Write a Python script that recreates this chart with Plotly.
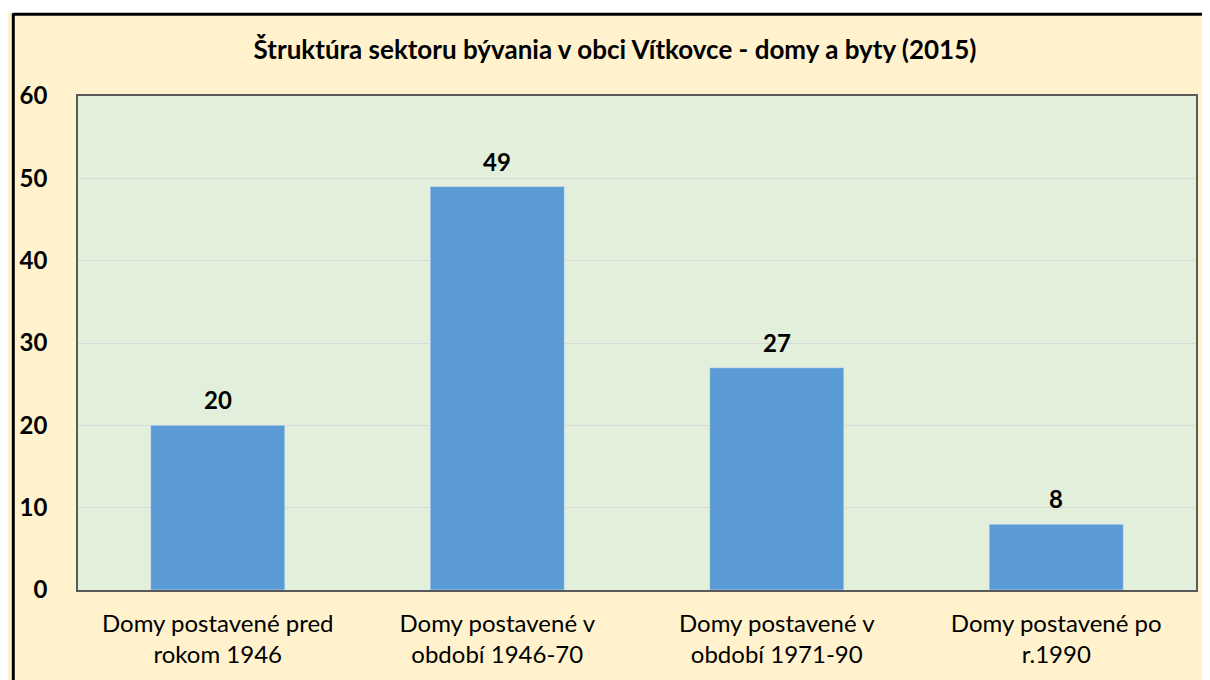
import plotly.graph_objects as go

categories = ["Domy postavené pred<br>rokom 1946", "Domy postavené v<br>období 1946-70",
              "Domy postavené v<br>období 1971-90", "Domy postavené po<br>r.1990"]
values = [20, 49, 27, 8]
y_ticks = [0, 10, 20, 30, 40, 50, 60]

W, H = 1202, 672
L, R, T, B = 66, 13, 88, 88
pw, ph = W - L - R, H - T - B
FONT = "Lato"

def px_x(p):
    return (p - L) / pw

def px_y(p):
    return 1 - (p - T) / ph

fig = go.Figure(go.Bar(
    x=categories, y=values, marker_color="#5B9BD5", width=0.48,
))

annotations = [
    dict(x=c, y=v, xref="x", yref="y", text=f"<b>{v}</b>", showarrow=False,
         yanchor="bottom", yshift=9, font=dict(family=FONT, size=24, color="#000000"))
    for c, v in zip(categories, values)
]

shapes = [
    dict(type="rect", xref="paper", yref="paper", x0=px_x(-20), x1=px_x(W + 20),
         y0=px_y(5), y1=px_y(-20), fillcolor="#FFFFFF", line_width=0),
    dict(type="line", xref="paper", yref="paper", x0=px_x(1), x1=px_x(W + 20),
         y0=px_y(6), y1=px_y(6), line=dict(color="#000000", width=3)),
    dict(type="line", xref="paper", yref="paper", x0=px_x(1), x1=px_x(1),
         y0=px_y(5), y1=px_y(H + 20), line=dict(color="#000000", width=3)),
]

fig.update_layout(
    width=W, height=H, margin=dict(l=L, r=R, t=T, b=B),
    paper_bgcolor="#FFF2CC", plot_bgcolor="#E2EFDA",
    title=dict(text="<b>Štruktúra sektoru bývania v obci Vítkovce - domy a byty (2015)</b>",
               x=607 / W, xref="container", xanchor="center", y=1 - 42 / H, yanchor="middle",
               font=dict(family=FONT, size=26, color="#000000")),
    font=dict(family=FONT, color="#000000"),
    showlegend=False, shapes=shapes, annotations=annotations,
)
fig.update_xaxes(showline=True, linecolor="#595959", linewidth=1.5, mirror=True,
                 tickfont=dict(family=FONT, size=24, color="#000000"),
                 ticklabelstandoff=11, showgrid=False)
fig.update_yaxes(range=[0, 60], tickvals=y_ticks, ticktext=[f"<b>{t}</b>" for t in y_ticks],
                 showline=True, linecolor="#595959", linewidth=1.5, mirror=True,
                 gridcolor="#D9D9D9", gridwidth=1, zeroline=False,
                 tickfont=dict(family=FONT, size=24, color="#000000"),
                 ticklabelstandoff=24)

fig.write_html("out.html")
